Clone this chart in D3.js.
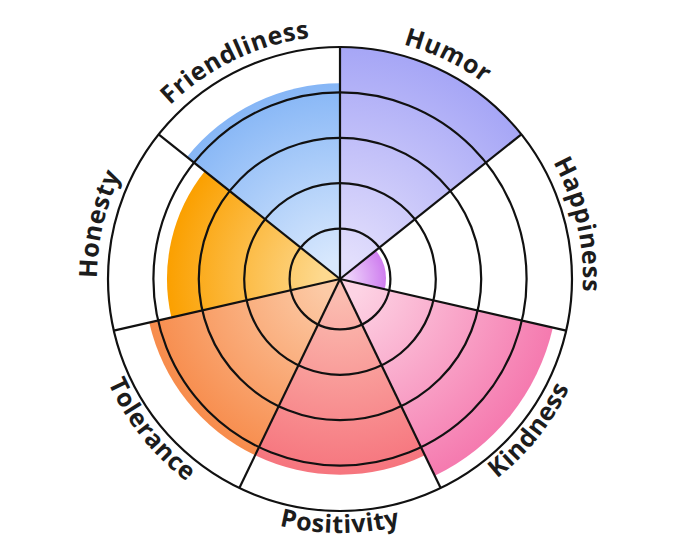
<!DOCTYPE html>
<html>
<head>
<meta charset="utf-8">
<script src="https://cdn.jsdelivr.net/npm/d3@7"></script>
<style>
  html, body { margin: 0; padding: 0; background: #fff; }
  svg { display: block; }
</style>
</head>
<body>
<div id="chart"></div>
<script>
// Wheel categories, clockwise from 12 o'clock
const categories = ["Humor", "Happiness", "Kindness", "Positivity", "Tolerance", "Honesty", "Friendliness"];
// Score on a 0-5 scale
const values = [5, 0.9, 4.7, 4.2, 4.2, 3.7, 4.2];
const ringLevels = [1, 2, 3, 4, 5];

// palette: pale centre colour -> saturated rim colour
const innerColors = ["#e2defc", "#f0dafb", "#fdd3e4", "#fbbcb0", "#fccaa6", "#fdd98f", "#d8e8fd"];
const outerColors = ["#a6a6f6", "#cf7eef", "#f57aaf", "#f6757e", "#f78c4c", "#fba000", "#86b6f6"];

const width = 680;
const height = 557;
const cx = 340;
const cy = 279;

const svg = d3.select("#chart")
  .append("svg")
  .attr("width", width)
  .attr("height", height)
  .attr("viewBox", `0 0 ${width} ${height}`);

svg.append("rect").attr("width", width).attr("height", height).attr("fill", "#fff");

const g = svg.append("g").attr("transform", `translate(${cx},${cy})`);

const angle = d3.scaleBand().domain(categories).range([0, 2 * Math.PI]).padding(0);
const radius = d3.scaleLinear().domain([0, 5]).range([5, 232]);
const outerR = radius(5);

const data = categories.map((c, i) => ({ cat: c, value: values[i], i }));

// gradients, each scaled to its own wedge
const defs = svg.append("defs");
data.forEach((d) => {
  const grad = defs.append("radialGradient")
    .attr("id", `grad-${d.i}`)
    .attr("gradientUnits", "userSpaceOnUse")
    .attr("cx", 0).attr("cy", 0).attr("r", radius(d.value));
  grad.append("stop").attr("offset", "0.1").attr("stop-color", innerColors[d.i]);
  grad.append("stop").attr("offset", "1").attr("stop-color", outerColors[d.i]);
});

const arc = d3.arc()
  .innerRadius(0)
  .outerRadius((d) => radius(d.value))
  .startAngle((d) => angle(d.cat))
  .endAngle((d) => angle(d.cat) + angle.bandwidth());

g.selectAll(".wedge")
  .data(data)
  .enter()
  .append("path")
  .attr("class", "wedge")
  .attr("d", arc)
  .attr("fill", (d) => `url(#grad-${d.i})`);

// rings
g.selectAll(".ring")
  .data(ringLevels)
  .enter()
  .append("circle")
  .attr("class", "ring")
  .attr("r", (d) => radius(d))
  .attr("fill", "none")
  .attr("stroke", "#111")
  .attr("stroke-width", 2.2);

// spokes
const pt = (a, r) => [r * Math.sin(a), -r * Math.cos(a)];
g.selectAll(".spoke")
  .data(categories)
  .enter()
  .append("line")
  .attr("class", "spoke")
  .attr("x1", 0).attr("y1", 0)
  .attr("x2", (d) => pt(angle(d), outerR)[0])
  .attr("y2", (d) => pt(angle(d), outerR)[1])
  .attr("stroke", "#111")
  .attr("stroke-width", 2.2);

// curved labels
const topR = 243;
const bottomR = 254;
const span = 1.0;
data.forEach((d) => {
  const mid = angle(d.cat) + angle.bandwidth() / 2;
  const isBottom = Math.cos(mid) < -0.2;
  let path;
  if (isBottom) {
    const p0 = pt(mid + span, bottomR), p1 = pt(mid - span, bottomR);
    path = `M${p0[0]},${p0[1]} A${bottomR},${bottomR} 0 0 0 ${p1[0]},${p1[1]}`;
  } else {
    const p0 = pt(mid - span, topR), p1 = pt(mid + span, topR);
    path = `M${p0[0]},${p0[1]} A${topR},${topR} 0 0 1 ${p1[0]},${p1[1]}`;
  }
  defs.append("path").attr("id", `label-path-${d.i}`).attr("d", path);

  g.append("text")
    .attr("font-family", "'Open Sans', 'Noto Sans', sans-serif")
    .attr("font-weight", 700)
    .attr("font-size", "25px")
    .attr("letter-spacing", "0.6px")
    .attr("fill", "#1c1c1c")
    .append("textPath")
    .attr("href", `#label-path-${d.i}`)
    .attr("startOffset", "50%")
    .attr("text-anchor", "middle")
    .text(d.cat);
});
</script>
</body>
</html>
